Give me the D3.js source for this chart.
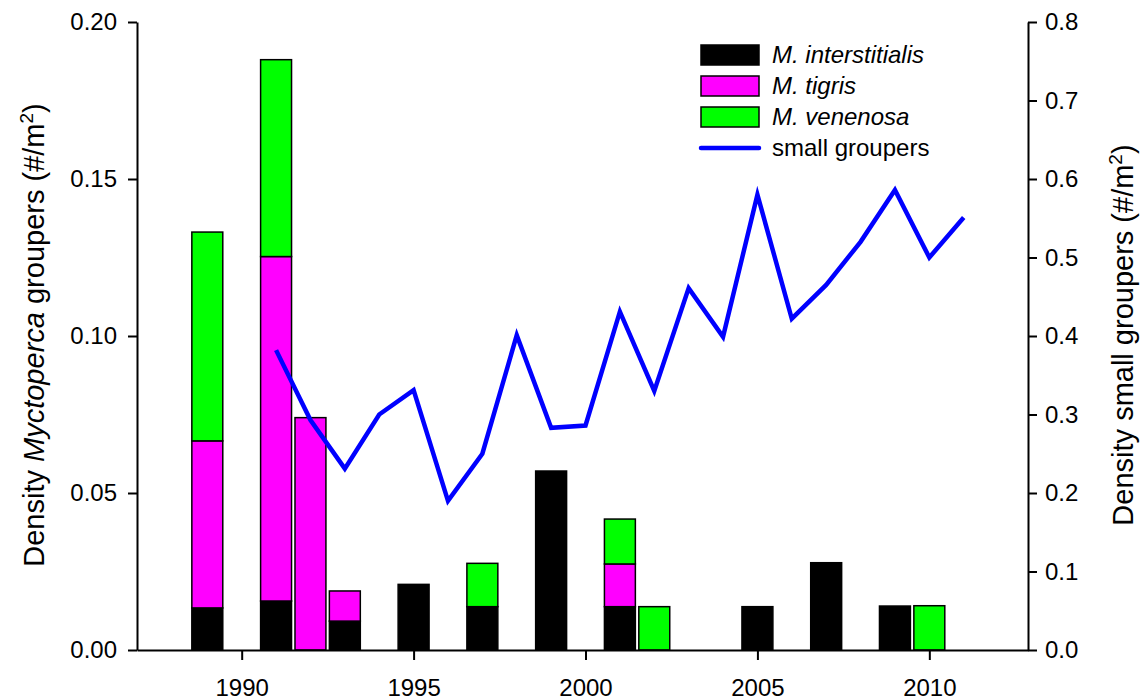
<!DOCTYPE html>
<html>
<head>
<meta charset="utf-8">
<script src="https://cdn.jsdelivr.net/npm/d3@7"></script>
<style>
  html, body { margin: 0; padding: 0; background: #ffffff; }
  svg { display: block; }
  .tick text { font-family: Arial, "Liberation Sans", sans-serif; fill: #000; }
</style>
</head>
<body>
<svg id="chart" width="1141" height="700"></svg>
<script>
// Myctoperca grouper densities (stacked bars, left axis)
const barYears       = [1989, 1991, 1992, 1993, 1995, 1997, 1999, 2001, 2002, 2005, 2007, 2009, 2010];
const interstitialis = [0.0134, 0.0156, 0, 0.0092, 0.0209, 0.0138, 0.0570, 0.0138, 0, 0.0138, 0.0278, 0.0140, 0];
const tigris         = [0.0532, 0.1097, 0.0740, 0.0096, 0, 0, 0, 0.0136, 0, 0, 0, 0, 0];
const venenosa       = [0.0665, 0.0627, 0, 0, 0, 0.0138, 0, 0.0143, 0.0138, 0, 0, 0, 0.0141];

// Small grouper densities (line, right axis)
const lineYears     = [1991, 1992, 1993, 1994, 1995, 1996, 1997, 1998, 1999, 2000, 2001,
                       2002, 2003, 2004, 2005, 2006, 2007, 2008, 2009, 2010, 2011];
const smallGroupers = [0.382, 0.293, 0.231, 0.300, 0.331, 0.190, 0.250, 0.401, 0.283, 0.286, 0.431,
                       0.330, 0.461, 0.399, 0.580, 0.422, 0.465, 0.520, 0.586, 0.500, 0.551];

// Tick values
const xTicks      = [1990, 1995, 2000, 2005, 2010];
const leftTicks   = [0, 0.05, 0.10, 0.15, 0.20];
const rightTicks  = [0, 0.1, 0.2, 0.3, 0.4, 0.5, 0.6, 0.7, 0.8];

const speciesNames  = ["M. interstitialis", "M. tigris", "M. venenosa"];
const speciesColors = ["#000000", "#ff00ff", "#00ff00"];
const lineColor = "#0000ff";

const svg = d3.select("#chart");
const plot = { left: 137, right: 1028, top: 22, bottom: 650 };

const x = d3.scaleLinear().domain([1986.955, 2012.87]).range([plot.left, plot.right]);
const yL = d3.scaleLinear().domain([0, 0.20]).range([plot.bottom, plot.top]);
const yR = d3.scaleLinear().domain([0, 0.8]).range([plot.bottom, plot.top]);

// stacked segments per year
const rows = barYears.map((yr, i) => ({
  year: yr,
  [speciesNames[0]]: interstitialis[i],
  [speciesNames[1]]: tigris[i],
  [speciesNames[2]]: venenosa[i]
}));
const stack = d3.stack().keys(speciesNames)(rows);
const barWidth = x(1990.9) - x(1990);

const bars = svg.append("g");
stack.forEach((layer, k) => {
  bars.selectAll(null)
    .data(layer.filter(d => d[1] - d[0] > 0))
    .join("rect")
    .attr("x", d => x(d.data.year) - barWidth / 2)
    .attr("width", barWidth)
    .attr("y", d => yL(d[1]))
    .attr("height", d => yL(d[0]) - yL(d[1]))
    .attr("fill", speciesColors[k])
    .attr("stroke", "#000")
    .attr("stroke-width", 1.5);
});

// small groupers line
const line = d3.line().x((d, i) => x(lineYears[i])).y(d => yR(d));
svg.append("path")
  .datum(smallGroupers)
  .attr("d", line)
  .attr("fill", "none")
  .attr("stroke", lineColor)
  .attr("stroke-width", 4.5)
  .attr("stroke-linejoin", "miter")
  .attr("stroke-linecap", "butt");

// axes
const fontSize = 24;
const leftAxis = svg.append("g")
  .attr("transform", `translate(${plot.left},0)`)
  .call(d3.axisLeft(yL).tickValues(leftTicks).tickFormat(d3.format(".2f"))
        .tickSize(9).tickSizeOuter(0).tickPadding(11));
const rightAxis = svg.append("g")
  .attr("transform", `translate(${plot.right},0)`)
  .call(d3.axisRight(yR).tickValues(rightTicks).tickFormat(d3.format(".1f"))
        .tickSize(9).tickSizeOuter(0).tickPadding(8));
const bottomAxis = svg.append("g")
  .attr("transform", `translate(0,${plot.bottom})`)
  .call(d3.axisBottom(x).tickValues(xTicks).tickFormat(d3.format("d"))
        .tickSize(10).tickSizeOuter(0).tickPadding(19));

[leftAxis, rightAxis, bottomAxis].forEach(g => {
  g.select(".domain").attr("stroke", "#000").attr("stroke-width", 2);
  g.selectAll(".tick line").attr("stroke", "#000").attr("stroke-width", 2);
  g.selectAll(".tick text").attr("font-size", fontSize);
});
bottomAxis.selectAll(".tick text")
  .attr("font-family", "'Liberation Sans Narrow', 'Arial Narrow', Arial, sans-serif");

// axis titles
const titleFont = 29;
const leftTitle = svg.append("text")
  .attr("transform", `translate(44,335) rotate(-90)`)
  .attr("text-anchor", "middle")
  .attr("font-family", "Arial, 'Liberation Sans', sans-serif")
  .attr("font-size", titleFont);
leftTitle.append("tspan").text("Density ");
leftTitle.append("tspan").attr("font-style", "italic").text("Myctoperca");
leftTitle.append("tspan").text(" groupers (#/m");
leftTitle.append("tspan").attr("dy", -11).attr("font-size", 19).text("2");
leftTitle.append("tspan").attr("dy", 11).text(")");

const rightTitle = svg.append("text")
  .attr("transform", `translate(1133,335) rotate(-90)`)
  .attr("text-anchor", "middle")
  .attr("font-family", "Arial, 'Liberation Sans', sans-serif")
  .attr("font-size", titleFont);
rightTitle.append("tspan").text("Density small groupers (#/m");
rightTitle.append("tspan").attr("dy", -11).attr("font-size", 19).text("2");
rightTitle.append("tspan").attr("dy", 11).text(")");

// legend
const legend = svg.append("g").attr("transform", "translate(701,0)");
const rowY = [55, 86, 117, 148];
speciesNames.forEach((name, k) => {
  legend.append("rect")
    .attr("x", 0).attr("y", rowY[k] - 10)
    .attr("width", 58).attr("height", 20)
    .attr("fill", speciesColors[k])
    .attr("stroke", "#000").attr("stroke-width", 1.5);
  legend.append("text")
    .attr("x", 71).attr("y", rowY[k])
    .attr("dy", "0.35em")
    .attr("font-family", "Arial, 'Liberation Sans', sans-serif")
    .attr("font-style", "italic")
    .attr("font-size", 24)
    .text(name);
});
legend.append("line")
  .attr("x1", 0).attr("x2", 58)
  .attr("y1", rowY[3]).attr("y2", rowY[3])
  .attr("stroke", lineColor).attr("stroke-width", 4.5).attr("stroke-linecap", "round");
legend.append("text")
  .attr("x", 71).attr("y", rowY[3])
  .attr("dy", "0.35em")
  .attr("font-family", "Arial, 'Liberation Sans', sans-serif")
  .attr("font-size", 24)
  .text("small groupers");
</script>
</body>
</html>
